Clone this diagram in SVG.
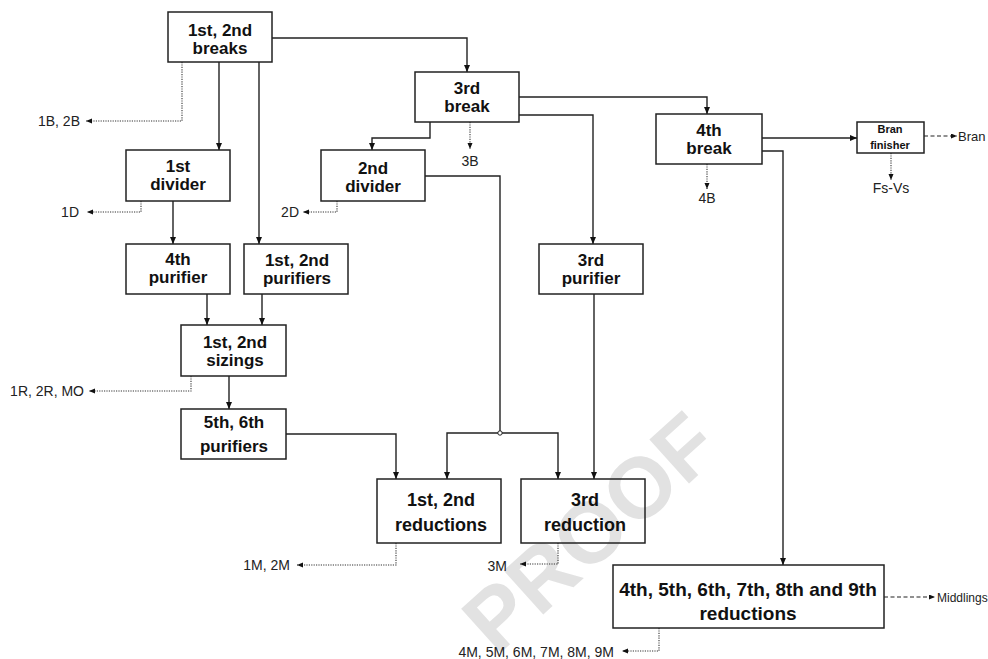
<svg xmlns="http://www.w3.org/2000/svg" width="988" height="659" viewBox="0 0 988 659">
<style>
.box{fill:none;stroke:#222;stroke-width:1.5}
.t{font-family:"Liberation Sans",Arial,sans-serif;font-weight:bold;font-size:17px;fill:#111;text-anchor:middle}
.t2{font-size:18px}
.lab{font-family:"Liberation Sans",Arial,sans-serif;font-size:14px;fill:#222}
.c{fill:none;stroke:#222;stroke-width:1.4}
.d{fill:none;stroke:#333;stroke-width:1.1;stroke-dasharray:1.2 1.2}
.da{fill:none;stroke:#222;stroke-width:1.2;stroke-dasharray:4 2.5}
</style>
<defs>
<marker id="a" markerUnits="userSpaceOnUse" markerWidth="8" markerHeight="8" refX="7" refY="3" orient="auto">
<path d="M0,0 L7,3 L0,6 z" fill="#111"/>
</marker>
<marker id="s" markerUnits="userSpaceOnUse" markerWidth="8" markerHeight="8" refX="6" refY="2.5" orient="auto">
<path d="M0,0 L6,2.5 L0,5 z" fill="#111"/>
</marker>
</defs>
<text transform="translate(590,532) rotate(-42)" x="0" y="30" text-anchor="middle" font-family="Liberation Sans,Arial,sans-serif" font-weight="bold" font-size="86" fill="#e2e2e2">PROOF</text>
<g id="connectors">
<path class="c" d="M272,38 H467 V72" marker-end="url(#a)"/>
<path class="c" d="M219,62 V150" marker-end="url(#a)"/>
<path class="c" d="M259,62 V244" marker-end="url(#a)"/>
<path class="d" d="M182,62 V121 H86" marker-end="url(#s)"/>
<path class="c" d="M173,201 V244" marker-end="url(#a)"/>
<path class="d" d="M141,201 V212 H87" marker-end="url(#s)"/>
<path class="c" d="M207,294 V325" marker-end="url(#a)"/>
<path class="c" d="M262,294 V325" marker-end="url(#a)"/>
<path class="d" d="M191,376 V391 H89" marker-end="url(#s)"/>
<path class="c" d="M229,376 V409" marker-end="url(#a)"/>
<path class="c" d="M286,434 H396 V479" marker-end="url(#a)"/>
<path class="c" d="M430,122 V138 H372 V150" marker-end="url(#a)"/>
<path class="d" d="M470,122 V149" marker-end="url(#s)"/>
<path class="c" d="M519,97 H707 V114" marker-end="url(#a)"/>
<path class="c" d="M519,115 H593 V244" marker-end="url(#a)"/>
<path class="c" d="M425,176 H500 V433"/>
<path class="c" d="M500,433 H447 V479" marker-end="url(#a)"/>
<path class="c" d="M500,433 H558 V479" marker-end="url(#a)"/>
<circle cx="500" cy="433" r="2.2" fill="#fff" stroke="#222" stroke-width="1"/>
<path class="d" d="M337,201 V212 H303" marker-end="url(#s)"/>
<path class="c" d="M594,294 V479" marker-end="url(#a)"/>
<path class="d" d="M396,543 V565 H297" marker-end="url(#s)"/>
<path class="d" d="M558,543 V564 H520" marker-end="url(#s)"/>
<path class="c" d="M762,138 H857" marker-end="url(#a)"/>
<path class="d" d="M707,164 V189" marker-end="url(#s)"/>
<path class="c" d="M762,151 H783 V565" marker-end="url(#a)"/>
<path class="da" d="M924,136 H957" marker-end="url(#s)"/>
<path class="d" d="M891,153 V180" marker-end="url(#s)"/>
<path class="da" d="M884,597 H935" marker-end="url(#s)"/>
<path class="d" d="M659,628 V651 H622" marker-end="url(#s)"/>
</g>
<g id="breaks12"><rect class="box" x="168" y="12" width="104" height="50"/><text class="t" x="220" y="36">1st, 2nd</text><text class="t" x="220" y="54">breaks</text></g>
<g id="break3"><rect class="box" x="415" y="72" width="104" height="50"/><text class="t" x="467" y="94">3rd</text><text class="t" x="467" y="112">break</text></g>
<g id="break4"><rect class="box" x="656" y="114" width="106" height="50"/><text class="t" x="709" y="136">4th</text><text class="t" x="709" y="154">break</text></g>
<g id="branfinisher"><rect class="box" x="857" y="122" width="67" height="31"/><text class="t" x="890" y="133" style="font-size:11px">Bran</text><text class="t" x="890" y="149" style="font-size:11px">finisher</text></g>
<g id="divider1"><rect class="box" x="126" y="150" width="104" height="51"/><text class="t" x="178" y="172">1st</text><text class="t" x="178" y="190">divider</text></g>
<g id="divider2"><rect class="box" x="321" y="150" width="104" height="51"/><text class="t" x="373" y="174">2nd</text><text class="t" x="373" y="192">divider</text></g>
<g id="purifier4"><rect class="box" x="126" y="244" width="104" height="50"/><text class="t" x="178" y="265">4th</text><text class="t" x="178" y="283">purifier</text></g>
<g id="purifiers12"><rect class="box" x="244" y="244" width="104" height="50"/><text class="t" x="297" y="266">1st, 2nd</text><text class="t" x="297" y="284">purifiers</text></g>
<g id="purifier3"><rect class="box" x="539" y="244" width="104" height="50"/><text class="t" x="591" y="266">3rd</text><text class="t" x="591" y="284">purifier</text></g>
<g id="sizings12"><rect class="box" x="181" y="325" width="105" height="51"/><text class="t" x="235" y="348">1st, 2nd</text><text class="t" x="235" y="366">sizings</text></g>
<g id="purifiers56"><rect class="box" x="181" y="409" width="105" height="50"/><text class="t" x="234" y="428">5th, 6th</text><text class="t" x="234" y="452">purifiers</text></g>
<g id="reductions12"><rect class="box" x="377" y="479" width="124" height="64"/><text class="t t2" x="441" y="506">1st, 2nd</text><text class="t t2" x="441" y="531">reductions</text></g>
<g id="reduction3"><rect class="box" x="521" y="479" width="124" height="64"/><text class="t t2" x="585" y="506">3rd</text><text class="t t2" x="585" y="531">reduction</text></g>
<g id="reductions49"><rect class="box" x="613" y="565" width="271" height="63"/><text class="t" x="748" y="596" style="font-size:19px">4th, 5th, 6th, 7th, 8th and 9th</text><text class="t" x="748" y="620" style="font-size:19px">reductions</text></g>
<g id="labels">
<text class="lab" x="80" y="126" text-anchor="end">1B, 2B</text>
<text class="lab" x="79" y="217" text-anchor="end">1D</text>
<text class="lab" x="299" y="217" text-anchor="end">2D</text>
<text class="lab" x="84" y="396" text-anchor="end">1R, 2R, MO</text>
<text class="lab" x="290" y="570" text-anchor="end">1M, 2M</text>
<text class="lab" x="507" y="571" text-anchor="end">3M</text>
<text class="lab" x="614" y="657" text-anchor="end">4M, 5M, 6M, 7M, 8M, 9M</text>
<text class="lab" x="470" y="166" text-anchor="middle">3B</text>
<text class="lab" x="707" y="203" text-anchor="middle">4B</text>
<text class="lab" x="891" y="193" text-anchor="middle">Fs-Vs</text>
<text class="lab" x="958" y="141" style="font-size:13px">Bran</text>
<text class="lab" x="937" y="602" style="font-size:12px">Middlings</text>
</g>
</svg>
